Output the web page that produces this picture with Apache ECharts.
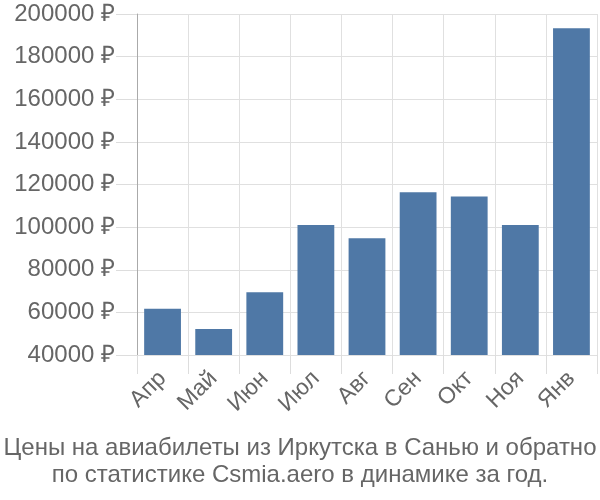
<!DOCTYPE html>
<html><head><meta charset="utf-8">
<script src="https://cdn.jsdelivr.net/npm/echarts@6/dist/echarts.min.js"></script>
<style>html,body{margin:0;padding:0;background:#fff}#c{width:600px;height:500px}</style>
</head><body><div id="c"></div>
<script>
var categories = ['Апр','Май','Июн','Июл','Авг','Сен','Окт','Ноя','Янв'];
var prices = [61700, 52200, 69500, 101000, 94800, 116400, 114400, 101000, 193300];
var yTicks = {min: 40000, max: 200000, interval: 20000};
var titleLines = ['Цены на авиабилеты из Иркутска в Санью и обратно', 'по статистике Csmia.aero в динамике за год.'];

var chart = echarts.init(document.getElementById('c'));
chart.setOption({
  animation: false,
  textStyle: {fontFamily: 'Liberation Sans'},
  title: {
    text: titleLines.join('\n'),
    left: 'center', bottom: 6,
    textStyle: {fontFamily: 'Liberation Sans', fontSize: 24, fontWeight: 'normal', color: '#666', lineHeight: 27}
  },
  grid: {left: 137, right: 3, top: 14, bottom: 145},
  xAxis: {
    type: 'category', data: categories,
    axisLine: {show: false},
    axisTick: {show: true, length: 19, lineStyle: {color: '#ddd'}},
    splitLine: {show: true, lineStyle: {color: '#e0e0e0'}},
    axisLabel: {rotate: 45, fontSize: 23, color: '#666', margin: 20, interval: 0}
  },
  yAxis: {
    type: 'value', min: yTicks.min, max: yTicks.max, interval: yTicks.interval,
    axisLine: {show: true, lineStyle: {color: '#aaa'}},
    axisTick: {show: true, length: 21, lineStyle: {color: '#ddd'}},
    splitLine: {lineStyle: {color: '#e0e0e0'}},
    axisLabel: {formatter: function (v) { return v + ' ₽'; }, fontSize: 24, color: '#666', margin: 22}
  },
  series: [{
    type: 'bar', data: prices, barCategoryGap: '28%',
    itemStyle: {color: '#4f78a6'}
  }]
});
</script></body></html>
